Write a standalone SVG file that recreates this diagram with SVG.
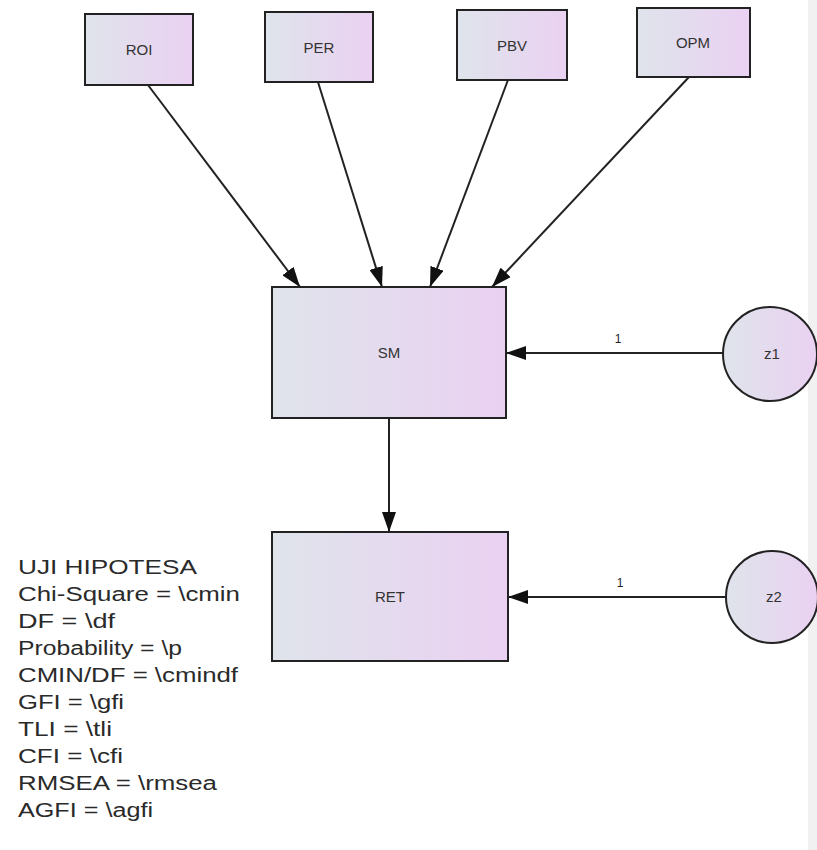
<svg xmlns="http://www.w3.org/2000/svg" width="817" height="850" viewBox="0 0 817 850">
<defs>
<linearGradient id="g" x1="0" y1="0" x2="1" y2="0">
<stop offset="0" stop-color="#dfe4eb"/>
<stop offset="1" stop-color="#ead1f2"/>
</linearGradient>
<marker id="ah" markerWidth="20" markerHeight="14" refX="20" refY="7" orient="auto" markerUnits="userSpaceOnUse">
<path d="M0,0 L20,7 L0,14 Z" fill="#111"/>
</marker>
</defs>
<style>
.box{fill:url(#g);stroke:#222;stroke-width:2}
.lbl{font-family:"Liberation Sans",Arial,sans-serif;font-size:15px;fill:#333;text-anchor:middle}
.edge{stroke:#222;stroke-width:2;fill:none;marker-end:url(#ah)}
.one{font-family:"Liberation Sans",Arial,sans-serif;font-size:12px;fill:#222;text-anchor:middle}
.leg{font-family:"Liberation Sans",Arial,sans-serif;font-size:20px;fill:#2a2a2a}
</style>
<rect x="0" y="0" width="817" height="850" fill="#ffffff"/>
<rect x="808" y="0" width="9" height="850" fill="#f1f1f1"/>
<g id="connectors">
<line class="edge" x1="148" y1="85" x2="300" y2="287"/>
<line class="edge" x1="318" y1="82" x2="382" y2="287"/>
<line class="edge" x1="508" y1="80" x2="430" y2="287"/>
<line class="edge" x1="689" y1="77" x2="492" y2="287"/>
<line class="edge" x1="723" y1="353" x2="506" y2="353"/>
<line class="edge" x1="389" y1="418" x2="389" y2="532"/>
<line class="edge" x1="726" y1="597" x2="508" y2="597"/>
<text class="one" x="618" y="343">1</text>
<text class="one" x="620" y="587">1</text>
</g>
<g id="ROI"><rect class="box" x="85" y="14" width="108" height="71"/><text class="lbl" x="139" y="55">ROI</text></g>
<g id="PER"><rect class="box" x="265" y="12" width="108" height="70"/><text class="lbl" x="319" y="53">PER</text></g>
<g id="PBV"><rect class="box" x="457" y="10" width="110" height="70"/><text class="lbl" x="512" y="51">PBV</text></g>
<g id="OPM"><rect class="box" x="637" y="8" width="113" height="69"/><text class="lbl" x="693" y="48">OPM</text></g>
<g id="SM"><rect class="box" x="272" y="287" width="234" height="131"/><text class="lbl" x="389" y="358">SM</text></g>
<g id="RET"><rect class="box" x="272" y="532" width="236" height="129"/><text class="lbl" x="390" y="602">RET</text></g>
<g id="z1"><circle class="box" cx="770" cy="354" r="47"/><text class="lbl" x="772" y="359">z1</text></g>
<g id="z2"><circle class="box" cx="772" cy="597" r="46"/><text class="lbl" x="774" y="602">z2</text></g>
<g id="legend">
<text class="leg" x="18" y="574" textLength="179" lengthAdjust="spacingAndGlyphs">UJI HIPOTESA</text>
<text class="leg" x="18" y="601" textLength="222" lengthAdjust="spacingAndGlyphs">Chi-Square = \cmin</text>
<text class="leg" x="18" y="628" textLength="97" lengthAdjust="spacingAndGlyphs">DF = \df</text>
<text class="leg" x="18" y="655" textLength="164" lengthAdjust="spacingAndGlyphs">Probability = \p</text>
<text class="leg" x="18" y="682" textLength="220" lengthAdjust="spacingAndGlyphs">CMIN/DF = \cmindf</text>
<text class="leg" x="18" y="709" textLength="106" lengthAdjust="spacingAndGlyphs">GFI = \gfi</text>
<text class="leg" x="18" y="736" textLength="94" lengthAdjust="spacingAndGlyphs">TLI = \tli</text>
<text class="leg" x="18" y="763" textLength="105" lengthAdjust="spacingAndGlyphs">CFI = \cfi</text>
<text class="leg" x="18" y="790" textLength="199" lengthAdjust="spacingAndGlyphs">RMSEA = \rmsea</text>
<text class="leg" x="18" y="817" textLength="135" lengthAdjust="spacingAndGlyphs">AGFI = \agfi</text>
</g>
</svg>
